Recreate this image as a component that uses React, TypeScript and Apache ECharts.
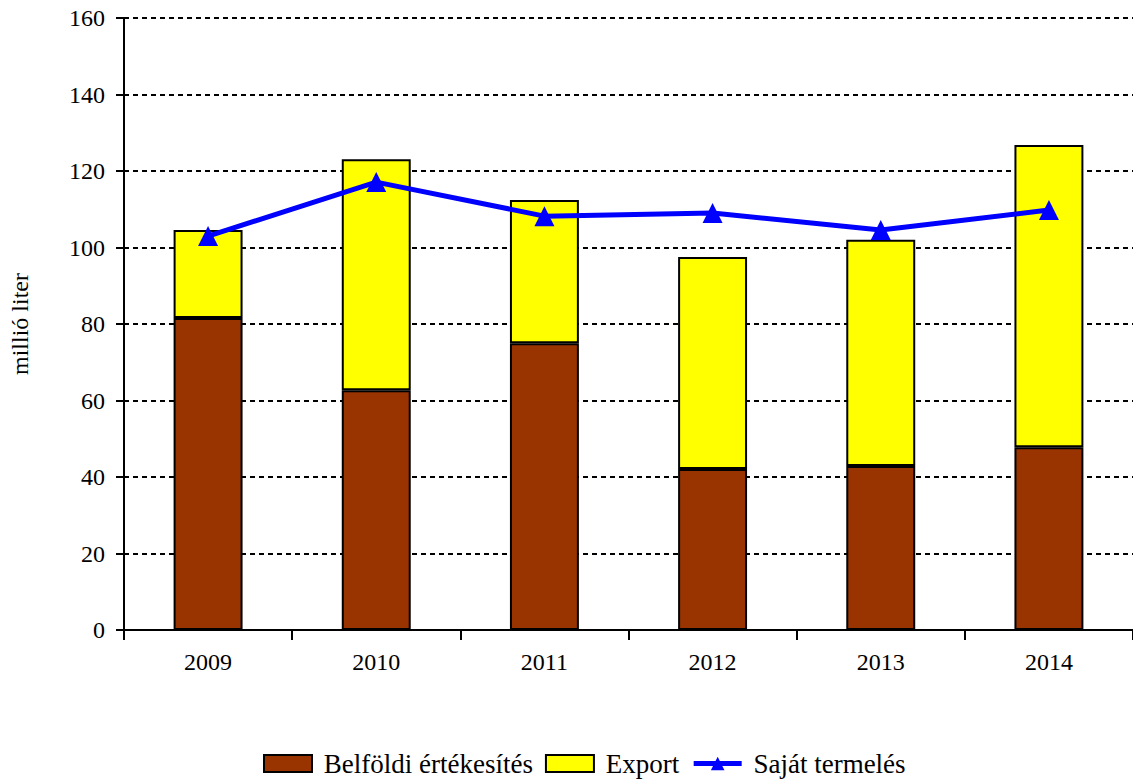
import React, { useEffect, useRef } from "react";
import * as echarts from "echarts";

const categories = ["2009", "2010", "2011", "2012", "2013", "2014"];
const belfoldi = [81.6, 62.7, 75.0, 42.1, 42.9, 47.8];
const exportVals = [23.0, 60.4, 37.4, 55.4, 59.1, 79.0];
const sajat = [103.0, 117.1, 108.2, 109.0, 104.6, 109.8];

const FONT = "Liberation Serif";

export default function App() {
  const ref = useRef<HTMLDivElement>(null);
  useEffect(() => {
    if (!ref.current) return;
    const chart = echarts.init(ref.current, null, { renderer: "svg" });
    chart.setOption({
      animation: false,
      textStyle: { fontFamily: FONT, color: "#000" },
      grid: { left: 122, right: -5, top: 18, bottom: 150, containLabel: false },
      legend: {
        bottom: -2,
        left: 258,
        itemWidth: 48,
        itemHeight: 17,
        itemGap: 12,
        formatter: (n: string) => " " + n,
        textStyle: { fontFamily: FONT, fontSize: 27, color: "#000" },
        data: [
          { name: "Belföldi értékesítés", icon: "rect" },
          { name: "Export", icon: "rect" },
          { name: "Saját termelés", lineStyle: { width: 5 } },
        ],
      },
      xAxis: {
        type: "category",
        data: categories,
        axisLine: { lineStyle: { color: "#000", width: 2 } },
        axisTick: { show: true, length: 10, lineStyle: { color: "#000", width: 2 } },
        axisLabel: { fontFamily: FONT, fontSize: 24, color: "#000", margin: 20 },
      },
      yAxis: {
        type: "value",
        min: 0,
        max: 160,
        interval: 20,
        name: "millió liter",
        nameLocation: "middle",
        nameGap: 92,
        nameTextStyle: { fontFamily: FONT, fontSize: 24, color: "#000" },
        axisLine: { show: true, lineStyle: { color: "#000", width: 2 } },
        axisTick: { show: true, length: 8, lineStyle: { color: "#000", width: 2 } },
        axisLabel: { fontFamily: FONT, fontSize: 24, color: "#000", margin: 19 },
        splitLine: { show: true, lineStyle: { color: "#000", width: 2, type: [5, 4] } },
      },
      series: [
        {
          name: "Belföldi értékesítés",
          type: "bar",
          stack: "total",
          data: belfoldi,
          barWidth: "41%",
          itemStyle: { color: "#993300", borderColor: "#000", borderWidth: 2 },
        },
        {
          name: "Export",
          type: "bar",
          stack: "total",
          data: exportVals,
          barWidth: "41%",
          itemStyle: { color: "#FFFF00", borderColor: "#000", borderWidth: 2 },
        },
        {
          name: "Saját termelés",
          type: "line",
          data: sajat,
          symbol: "triangle",
          symbolSize: 20,
          lineStyle: { color: "#0000FF", width: 5 },
          itemStyle: { color: "#0000FF" },
          z: 5,
        },
      ],
    });
    return () => chart.dispose();
  }, []);
  return (
    <div
      ref={ref}
      style={{ position: "fixed", left: 0, top: 0, width: 1133, height: 780, background: "#fff" }}
    />
  );
}
